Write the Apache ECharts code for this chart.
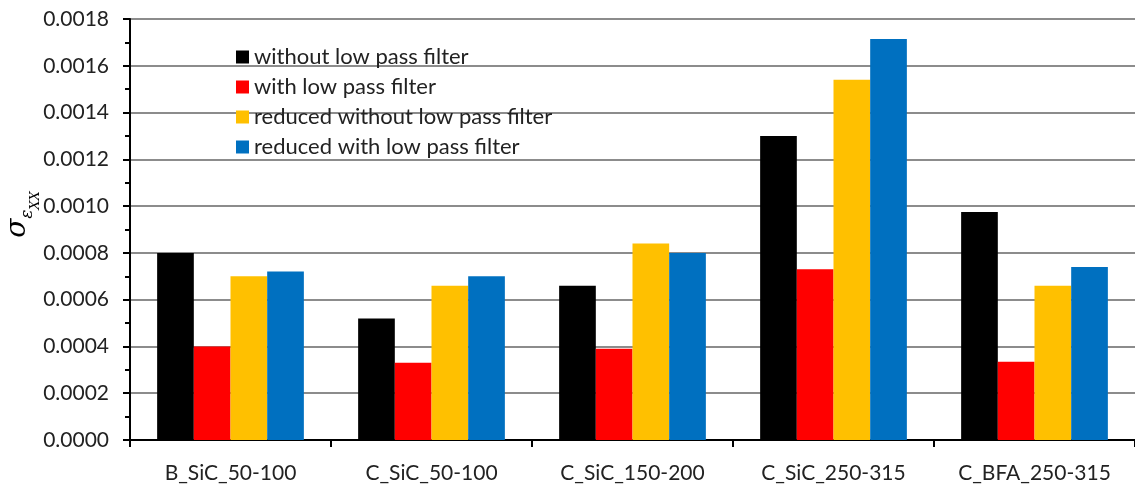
<!DOCTYPE html>
<html>
<head>
<meta charset="utf-8">
<script src="https://cdn.jsdelivr.net/npm/echarts@6/dist/echarts.min.js"></script>
<style>
  html, body { margin: 0; padding: 0; background: #fff; }
  #chart { width: 1135px; height: 486px; }
</style>
</head>
<body>
<div id="chart"></div>
<script>
// data
var categories = ['B_SiC_50-100', 'C_SiC_50-100', 'C_SiC_150-200', 'C_SiC_250-315', 'C_BFA_250-315'];
var seriesNames = ['without low pass filter', 'with low pass filter', 'reduced without low pass filter', 'reduced with low pass filter'];
var withoutFilter = [0.0008, 0.00052, 0.00066, 0.0013, 0.000975];
var withFilter = [0.0004, 0.00033, 0.00039, 0.00073, 0.000335];
var reducedWithout = [0.0007, 0.00066, 0.00084, 0.00154, 0.00066];
var reducedWith = [0.00072, 0.0007, 0.0008, 0.001715, 0.00074];
var colors = ['#000000', '#ff0000', '#ffc000', '#0070c0'];

var font = 'Lato';
var chart = echarts.init(document.getElementById('chart'));

function bar(name, data, color) {
    return {
        name: name,
        type: 'bar',
        data: data,
        barGap: '0%',
        barCategoryGap: '27%',
        itemStyle: { color: color }
    };
}

var option = {
    animation: false,
    grid: { left: 130, right: 0, top: 19, bottom: 46, outerBoundsMode: 'none', containLabel: false },
    legend: {
        orient: 'vertical',
        left: 231,
        top: 41,
        itemWidth: 13,
        itemHeight: 13,
        itemGap: 8,
        icon: 'rect',
        textStyle: { fontFamily: font, fontSize: 22, color: '#222' },
        data: seriesNames
    },
    xAxis: {
        type: 'category',
        data: categories,
        axisLine: { lineStyle: { color: '#000', width: 2 } },
        axisTick: { show: true, length: 7, lineStyle: { color: '#000', width: 2 } },
        axisLabel: { interval: 0, fontFamily: font, fontSize: 21, color: '#222', margin: 23 }
    },
    yAxis: {
        type: 'value',
        min: 0,
        max: 0.0018,
        interval: 0.0002,
        name: '{s|σ}{e|ε}{x|XX}',
        nameLocation: 'middle',
        nameGap: 94,
        nameMoveOverlap: false,
        nameTextStyle: {
            padding: [0, 0, 0, 30],
            rich: {
                s: { fontFamily: 'DejaVu Serif', fontStyle: 'italic', fontSize: 28, lineHeight: 36, verticalAlign: 'middle', color: '#000' },
                e: { fontFamily: 'DejaVu Serif', fontStyle: 'italic', fontSize: 17, lineHeight: 36, verticalAlign: 'bottom', color: '#000' },
                x: { fontFamily: 'DejaVu Serif', fontStyle: 'italic', fontSize: 13, lineHeight: 36, verticalAlign: 'bottom', padding: [0, 0, -6, 0], color: '#000' }
            }
        },
        axisLine: { show: true, lineStyle: { color: '#000', width: 2 } },
        axisTick: { show: true, length: 7, lineStyle: { color: '#000', width: 2 } },
        minorTick: { show: true, splitNumber: 2, length: 5, lineStyle: { color: '#000', width: 2 } },
        axisLabel: {
            fontFamily: font, fontSize: 21, color: '#222', margin: 21,
            formatter: function (v) { return v.toFixed(4); }
        },
        splitLine: { lineStyle: { color: '#8c8c8c', width: 2 } }
    },
    series: [
        bar(seriesNames[0], withoutFilter, colors[0]),
        bar(seriesNames[1], withFilter, colors[1]),
        bar(seriesNames[2], reducedWithout, colors[2]),
        bar(seriesNames[3], reducedWith, colors[3])
    ]
};
chart.setOption(option);
</script>
</body>
</html>
